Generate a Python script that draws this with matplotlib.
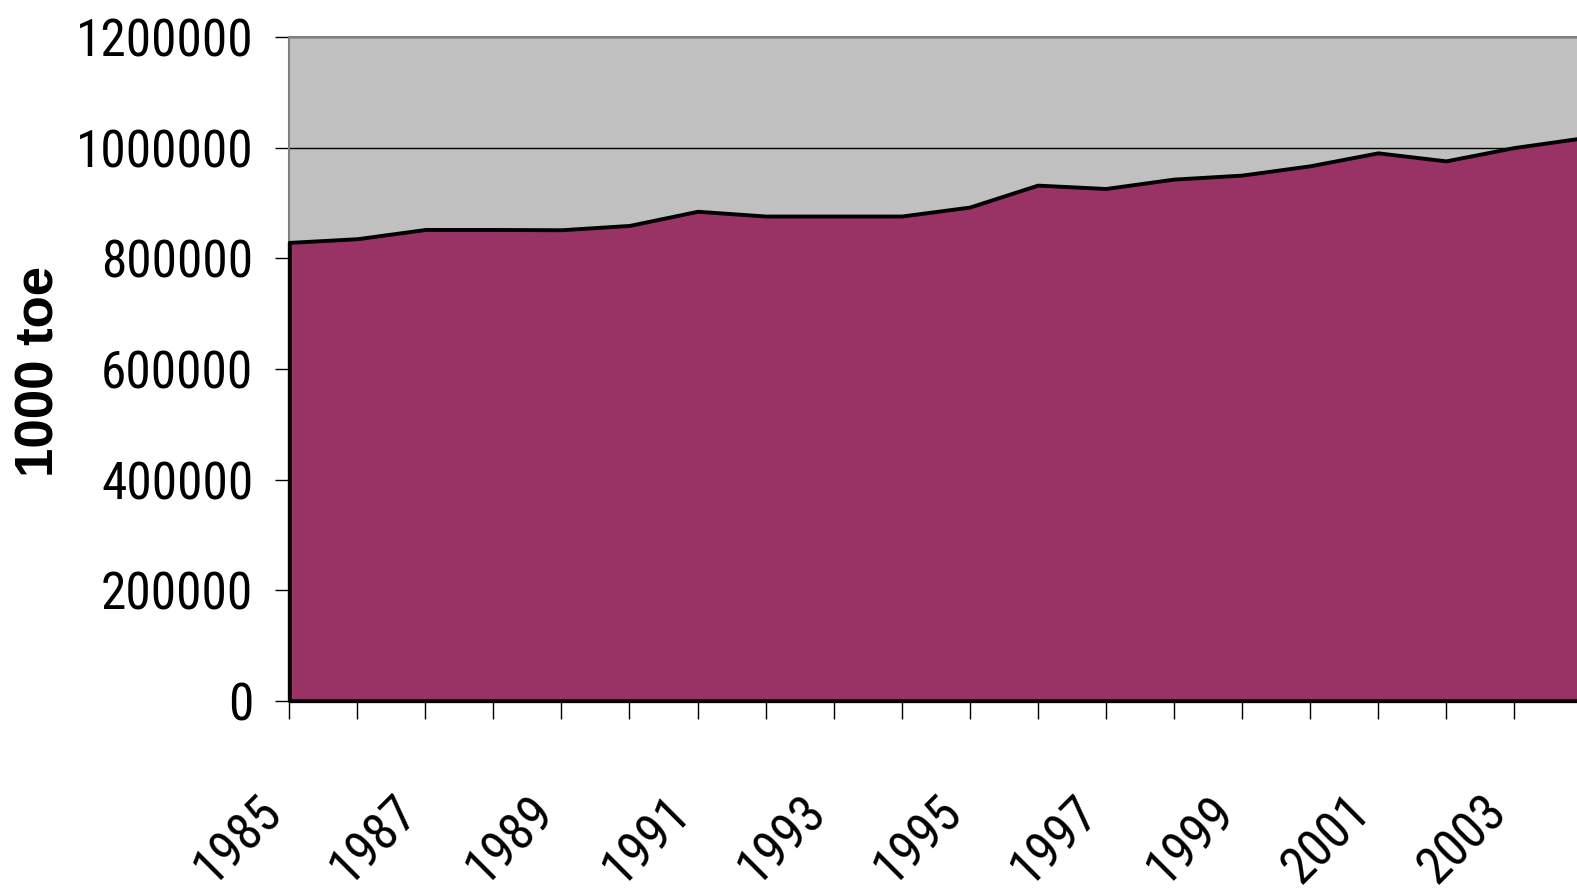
import numpy as np
import matplotlib
matplotlib.use('Agg')
import matplotlib.pyplot as plt
from matplotlib.transforms import ScaledTranslation

# primary energy supply, 1000 toe
years = [1985, 1986, 1987, 1988, 1989, 1990, 1991, 1992, 1993, 1994,
         1995, 1996, 1997, 1998, 1999, 2000, 2001, 2002, 2003, 2004]
supply = [829000, 835700, 852400, 852400, 851900, 859700, 885300, 876700, 876700, 876700,
          892900, 932600, 926500, 943500, 950700, 967500, 991000, 976500, 1000500, 1017900]
yticks = [0, 200000, 400000, 600000, 800000, 1000000, 1200000]
xtick_labels = [str(y) if (y - 1985) % 2 == 0 else '' for y in years]

plt.rcParams['font.family'] = ['Arial Narrow', 'Liberation Sans Narrow', 'Roboto Condensed',
                               'Archivo Narrow', 'PT Sans Narrow', 'DejaVu Sans']

fig = plt.figure(figsize=(15.77, 8.93), dpi=100)
ax = fig.add_axes([289.3/1577, 1-700.7/893, (1582-289.3)/1577, (700.7-37.3)/893])
ax.set_facecolor('#C0C0C0')

ax.fill_between(years, 0, supply, facecolor='#993366', edgecolor='black',
                linewidth=2.8, zorder=3, clip_on=False)

ax.set_xlim(1985, 2004)
ax.set_ylim(0, 1200000)
ax.set_yticks(yticks)
ax.set_yticklabels([str(v) for v in yticks])
ax.set_xticks(years)
ax.set_xticklabels(xtick_labels, rotation=45, ha='right', va='center', rotation_mode='anchor')

ax.grid(axis='y', color='black', linewidth=1)
ax.set_axisbelow(True)

ax.tick_params(axis='y', length=10, width=1, pad=16, labelsize=37, colors='black')
ax.tick_params(axis='x', length=12.7, width=1, pad=62, labelsize=37, colors='black')

for lab in ax.get_xticklabels():
    lab.set_transform(lab.get_transform() + ScaledTranslation(-0.15, 0, fig.dpi_scale_trans))

for s in ['top', 'left']:
    ax.spines[s].set_color('#808080')
    ax.spines[s].set_linewidth(1.5)
ax.spines['right'].set_visible(False)
ax.spines['bottom'].set_color('black')
ax.spines['bottom'].set_linewidth(1.5)

fig.text(40/1577, 1-371/893, '1000 toe', rotation=90, ha='center', va='center',
         fontsize=38, fontweight='bold', family=['Liberation Sans', 'DejaVu Sans'])

fig.savefig('out.png', dpi=100)
